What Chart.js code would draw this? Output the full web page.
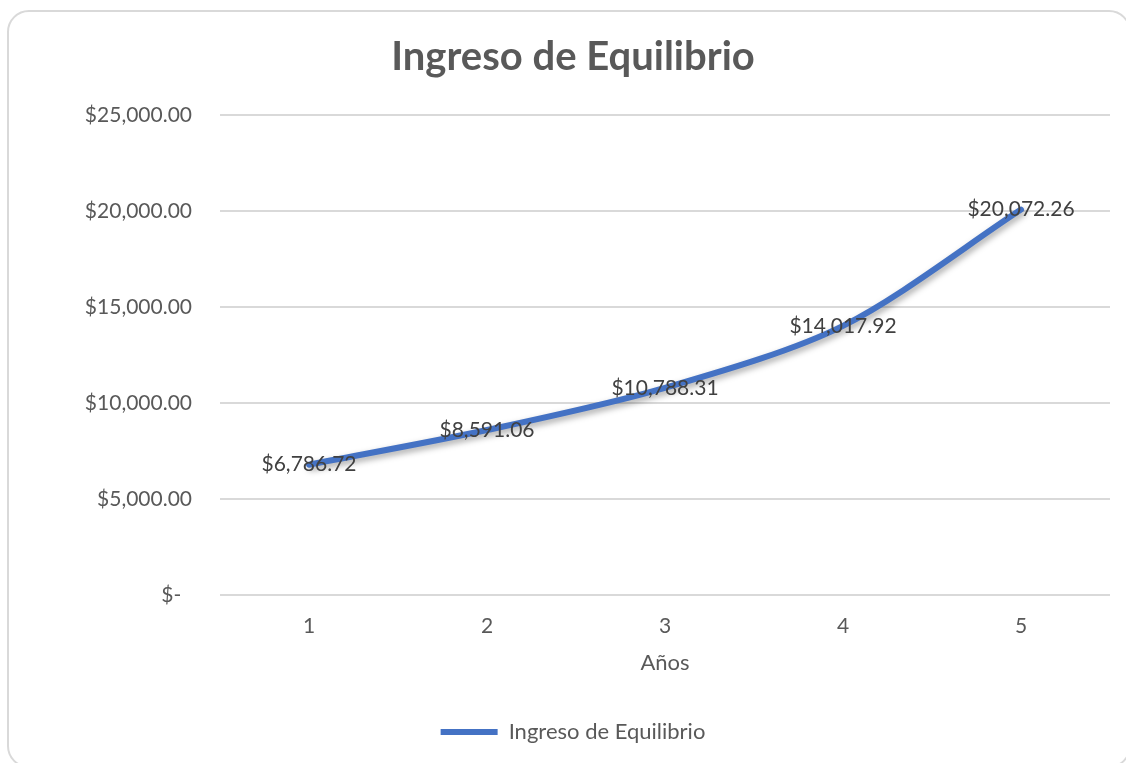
<!DOCTYPE html>
<html lang="es">
<head>
    <meta charset="UTF-8">
    <title>Ingreso de Equilibrio</title>
    <script src="https://cdn.jsdelivr.net/npm/chart.js"></script>
    <style>
        html, body { margin: 0; padding: 0; background: #fff; }
        .frame {
            position: absolute;
            left: 7px; top: 10px;
            width: 1124px; height: 758px;
            border: 2px solid #d9d9d9;
            border-radius: 22px;
            box-sizing: border-box;
        }
        .wrap { position: absolute; left: 0; top: 0; width: 1126px; height: 763px; }
    </style>
</head>
<body>
    <div class="frame"></div>
    <div class="wrap"><canvas id="chart" width="1126" height="763"></canvas></div>

    <script>
        const years = ['1', '2', '3', '4', '5'];
        const ingreso = [6786.72, 8591.06, 10788.31, 14017.92, 20072.26];
        const yTicks = [0, 5000, 10000, 15000, 20000, 25000];

        const money = v => v === 0 ? '$-  ' :
            '$' + v.toLocaleString('en-US', { minimumFractionDigits: 2, maximumFractionDigits: 2 });

        const FONT = 'Lato, "Open Sans", sans-serif';
        const BLUE = '#4472C4';
        const GREY = '#595959';

        // shadow under the line, like Excel
        const shadow = {
            id: 'shadow',
            beforeDatasetsDraw(chart) {
                const c = chart.ctx;
                c.save();
                c.shadowColor = 'rgba(0,0,0,0.35)';
                c.shadowBlur = 6;
                c.shadowOffsetX = 2;
                c.shadowOffsetY = 3;
            },
            afterDatasetsDraw(chart) {
                chart.ctx.restore();
            }
        };

        // value labels centred on each point
        const labels = {
            id: 'labels',
            afterDatasetsDraw(chart) {
                const c = chart.ctx;
                const meta = chart.getDatasetMeta(0);
                c.save();
                c.font = '21px ' + FONT;
                c.fillStyle = '#404040';
                c.textAlign = 'center';
                c.textBaseline = 'middle';
                meta.data.forEach((pt, i) => {
                    c.fillText(money(ingreso[i]), pt.x, pt.y);
                });
                c.restore();
            }
        };

        new Chart(document.getElementById('chart'), {
            type: 'line',
            data: {
                labels: years,
                datasets: [{
                    label: 'Ingreso de Equilibrio',
                    data: ingreso,
                    borderColor: BLUE,
                    backgroundColor: BLUE,
                    borderWidth: 6,
                    borderCapStyle: 'round',
                    tension: 0.3,
                    pointRadius: 0,
                    fill: false
                }]
            },
            options: {
                responsive: false,
                animation: false,
                devicePixelRatio: 1,
                layout: { padding: { left: 36, right: 16, top: 0, bottom: 10 } },
                scales: {
                    x: {
                        offset: true,
                        grid: { display: false, drawTicks: false },
                        border: { display: false },
                        ticks: { color: GREY, font: { size: 21, family: FONT }, padding: 19 },
                        title: {
                            display: true,
                            text: 'Años',
                            color: GREY,
                            font: { size: 22, family: FONT },
                            padding: { top: 12, bottom: 35 }
                        },
                        afterFit(scale) { scale.height = 116; }
                    },
                    y: {
                        min: 0,
                        max: 25000,
                        afterBuildTicks(scale) { scale.ticks = yTicks.map(v => ({ value: v })); },
                        grid: { color: '#d9d9d9', lineWidth: 2, drawTicks: false },
                        border: { display: false },
                        ticks: {
                            color: GREY,
                            font: { size: 21, family: FONT },
                            padding: 28,
                            callback: v => money(v)
                        },
                        afterFit(scale) { scale.width = 184; }
                    }
                },
                plugins: {
                    title: {
                        display: true,
                        text: 'Ingreso de Equilibrio',
                        color: GREY,
                        font: { size: 40, weight: 'bold', family: FONT },
                        padding: { top: 33, bottom: 34 }
                    },
                    legend: {
                        position: 'bottom',
                        labels: {
                            color: GREY,
                            font: { size: 22, family: FONT },
                            boxWidth: 57,
                            boxHeight: 6,
                            useBorderRadius: true,
                            borderRadius: 3,
                            generateLabels: chart => [{
                                text: 'Ingreso de Equilibrio',
                                fillStyle: BLUE,
                                strokeStyle: BLUE,
                                fontColor: GREY,
                                lineWidth: 0,
                                datasetIndex: 0
                            }]
                        }
                    },
                    tooltip: { enabled: false }
                }
            },
            plugins: [shadow, labels]
        });
    </script>
</body>
</html>
